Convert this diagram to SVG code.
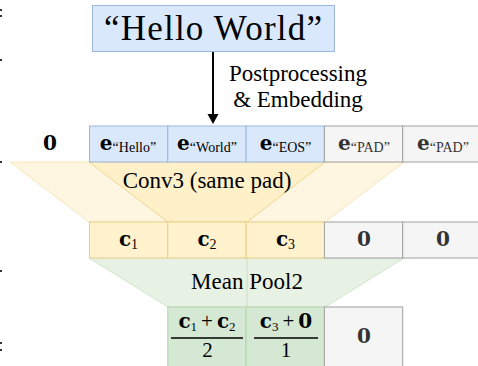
<svg xmlns="http://www.w3.org/2000/svg" width="478" height="366" viewBox="0 0 478 366">
<style>
text{font-family:"Liberation Serif","Times New Roman",serif;fill:#000}
.lbl{font-size:23px}
.b{font-family:"DejaVu Serif","Liberation Serif",serif;font-weight:bold;font-size:20px}
.sub{font-size:14px}
.sub2{font-size:13px}
.gt{fill:#333}
.blue{fill:#dae8fc;stroke:#9db6dd;stroke-width:1}
.gray{fill:#f5f5f5;stroke:#a0a0a0;stroke-width:1}
.yel{fill:#fff2cc;stroke:#e8cf88;stroke-width:1}
.grn{fill:#d5e8d4;stroke:#b5d4ab;stroke-width:1}
</style>
<rect width="478" height="366" fill="#fff"/>
<g id="edge-marks" fill="#333">
<rect x="0" y="9" width="2" height="2"/><rect x="0" y="15" width="2" height="2"/>
<rect x="0" y="59" width="2" height="2"/><rect x="0" y="161" width="2" height="2"/>
<rect x="0" y="270" width="2" height="2"/><rect x="0" y="342" width="2" height="2"/><rect x="0" y="349" width="2" height="2"/>
</g>
<g id="conv3">
<polygon points="10,162 404,162 325,222 89,222" fill="#fef6e1" stroke="#f6e6bd" stroke-width="1"/>
<polygon points="89,162 325,162 247,222 168,222" fill="#fef0c9" stroke="#efd792" stroke-width="1"/>
<text class="lbl" x="207" y="188" text-anchor="middle">Conv3 (same pad)</text>
</g>
<g id="meanpool">
<polygon points="89,258 404,258 325,307 168,307" fill="#e7f2e5" stroke="#d0e5cb" stroke-width="1"/>
<line x1="247" y1="258" x2="247" y2="307" stroke="#c8dfc2" stroke-width="1"/>
<text class="lbl" x="247" y="289" text-anchor="middle">Mean Pool2</text>
</g>
<g id="input">
<rect class="blue" x="92.5" y="5.5" width="242" height="46"/>
<text x="104" y="40" style="font-size:35px" textLength="218" lengthAdjust="spacing">“Hello World”</text>
</g>
<g id="connectors">
<line x1="213" y1="52" x2="213" y2="115" stroke="#000" stroke-width="2"/>
<polygon points="207.5,114 218.5,114 213,124" fill="#000"/>
<text class="lbl" x="298" y="81" text-anchor="middle">Postprocessing</text>
<text class="lbl" x="298" y="107" text-anchor="middle">&amp; Embedding</text>
</g>
<g id="row1">
<text class="b" x="50" y="150" text-anchor="middle">0</text>
<rect class="blue" x="89.5" y="126" width="78.3" height="36"/>
<rect class="blue" x="167.8" y="126" width="78.3" height="36"/>
<rect class="blue" x="246.1" y="126" width="78.3" height="36"/>
<rect class="gray" x="324.4" y="126" width="78.3" height="36"/>
<rect class="gray" x="402.7" y="126" width="78.3" height="36"/>
<text x="128" y="150" text-anchor="middle"><tspan class="b">e</tspan><tspan class="sub" dy="2">“Hello”</tspan></text>
<text x="207" y="150" text-anchor="middle"><tspan class="b">e</tspan><tspan class="sub" dy="2">“World”</tspan></text>
<text x="285.5" y="150" text-anchor="middle"><tspan class="b">e</tspan><tspan class="sub" dy="2">“EOS”</tspan></text>
<text class="gt" x="364" y="150" text-anchor="middle"><tspan class="b gt">e</tspan><tspan class="sub gt" dy="2">“PAD”</tspan></text>
<text class="gt" x="443" y="150" text-anchor="middle"><tspan class="b gt">e</tspan><tspan class="sub gt" dy="2">“PAD”</tspan></text>
</g>
<g id="row2">
<rect class="yel" x="89.5" y="222" width="78.3" height="36"/>
<rect class="yel" x="167.8" y="222" width="78.3" height="36"/>
<rect class="yel" x="246.1" y="222" width="78.3" height="36"/>
<rect class="gray" x="324.4" y="222" width="78.3" height="36"/>
<rect class="gray" x="402.7" y="222" width="78.3" height="36"/>
<text x="128.5" y="246" text-anchor="middle"><tspan class="b">c</tspan><tspan class="sub" dy="3">1</tspan></text>
<text x="207" y="246" text-anchor="middle"><tspan class="b">c</tspan><tspan class="sub" dy="3">2</tspan></text>
<text x="285.5" y="246" text-anchor="middle"><tspan class="b">c</tspan><tspan class="sub" dy="3">3</tspan></text>
<text class="b gt" x="364" y="246" text-anchor="middle">0</text>
<text class="b gt" x="443" y="246" text-anchor="middle">0</text>
</g>
<g id="row3">
<rect class="grn" x="167.8" y="307" width="78.3" height="64"/>
<rect class="grn" x="246.1" y="307" width="78.3" height="64"/>
<rect class="gray" x="324.4" y="307" width="78.3" height="64"/>
<text x="207" y="328" text-anchor="middle"><tspan class="b">c</tspan><tspan class="sub2" dy="3">1</tspan><tspan style="font-size:21px" dx="4" dy="-3">+</tspan><tspan class="b" dx="4">c</tspan><tspan class="sub2" dy="3">2</tspan></text>
<line x1="171" y1="338" x2="243" y2="338" stroke="#000" stroke-width="1.3"/>
<text x="207.5" y="357" text-anchor="middle" style="font-size:21px">2</text>
<text x="286" y="328" text-anchor="middle"><tspan class="b">c</tspan><tspan class="sub2" dy="3">3</tspan><tspan style="font-size:21px" dx="4" dy="-3">+</tspan><tspan class="b" dx="4">0</tspan></text>
<line x1="254" y1="338" x2="318" y2="338" stroke="#000" stroke-width="1.3"/>
<text x="286" y="357" text-anchor="middle" style="font-size:21px">1</text>
<text class="b gt" x="364" y="343" text-anchor="middle">0</text>
</g>
</svg>
